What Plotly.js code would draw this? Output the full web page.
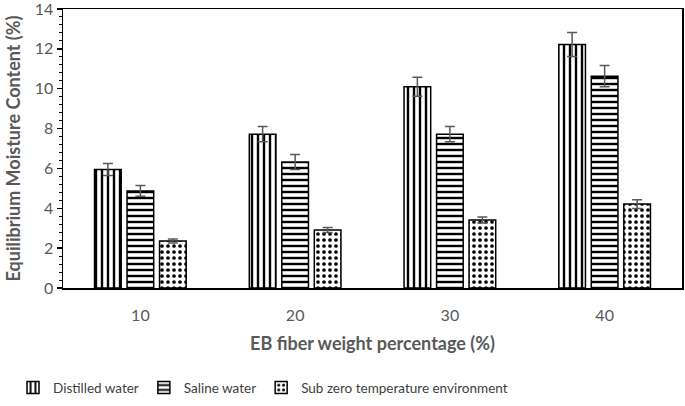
<!DOCTYPE html>
<html>
<head>
<meta charset="utf-8">
<script src="https://cdn.plot.ly/plotly-3.0.1.min.js"></script>
<style>html,body{margin:0;padding:0;background:#fff;}#chart{width:685px;height:406px;}</style>
</head>
<body>
<div id="chart"></div>
<script>
const categories = ["10", "20", "30", "40"];
const distilled = [5.95, 7.72, 10.1, 12.22];
const distilledErr = [0.3, 0.38, 0.48, 0.6];
const saline = [4.87, 6.32, 7.72, 10.63];
const salineErr = [0.27, 0.38, 0.38, 0.53];
const subzero = [2.36, 2.91, 3.41, 4.21];
const subzeroErr = [0.1, 0.12, 0.15, 0.22];
const seriesNames = ["Distilled water", "Saline water", "Sub zero temperature environment"];
const yTicks = [0, 2, 4, 6, 8, 10, 12, 14];

const fontFam = "Lato, 'Open Sans', sans-serif";
const greyText = "#595959";

function mk(name, y, err, shape, size, solidity) {
  return {
    type: "bar", name: name, x: categories, y: y,
    marker: {
      color: "#ffffff",
      line: {color: "#000000", width: 1.5},
      pattern: {shape: shape, fillmode: "replace", fgcolor: "#000000", bgcolor: "#ffffff", size: size, solidity: solidity}
    },
    error_y: {type: "data", array: err, visible: true, color: "#595959", thickness: 1.5, width: 5}
  };
}

const data = [
  mk(seriesNames[0], distilled, distilledErr, "|", 6, 0.4),
  mk(seriesNames[1], saline, salineErr, "-", 6, 0.4),
  mk(seriesNames[2], subzero, subzeroErr, ".", 6, 0.3)
];

const layout = {
  width: 685, height: 406,
  margin: {l: 63, r: 3, t: 9, b: 118},
  paper_bgcolor: "#ffffff", plot_bgcolor: "#ffffff",
  font: {family: fontFam, color: greyText, size: 16},
  barmode: "group", bargap: 0.37, bargroupgap: 0.18,
  showlegend: true,
  legend: {orientation: "h", xref: "container", x: 0.019, xanchor: "left", yref: "container", y: 0.045, yanchor: "middle",
           font: {family: fontFam, size: 13.5, color: "#404040"}, itemwidth: 30,
           traceorder: "normal"},
  xaxis: {
    type: "category", showline: true, linecolor: "#000000", linewidth: 1.5, mirror: true,
    ticks: "", showgrid: false, zeroline: false, ticklabelstandoff: 12, automargin: false,
    tickfont: {family: fontFam, size: 16, color: greyText},
    title: {text: "<b>EB fiber weight percentage (%)</b>", font: {family: fontFam, size: 18, color: greyText}, standoff: 14}
  },
  yaxis: {
    range: [0, 14], tickvals: yTicks, ticktext: yTicks.map(String),
    showline: true, linecolor: "#000000", linewidth: 1.5, mirror: true,
    ticks: "outside", ticklen: 5, tickcolor: "#000000", tickwidth: 1.5,
    ticklabeloverflow: "allow", automargin: false,
    minor: {dtick: 0.4, ticks: "outside", ticklen: 3, tickcolor: "#000000", tickwidth: 1, showgrid: false},
    showgrid: false, zeroline: false,
    tickfont: {family: fontFam, size: 16, color: greyText},
    title: {text: "<b>Equilibrium Moisture Content (%)</b>", font: {family: fontFam, size: 18, color: greyText}, standoff: 9}
  }
};

Plotly.newPlot("chart", data, layout, {displayModeBar: false, staticPlot: true});
</script>
</body>
</html>
